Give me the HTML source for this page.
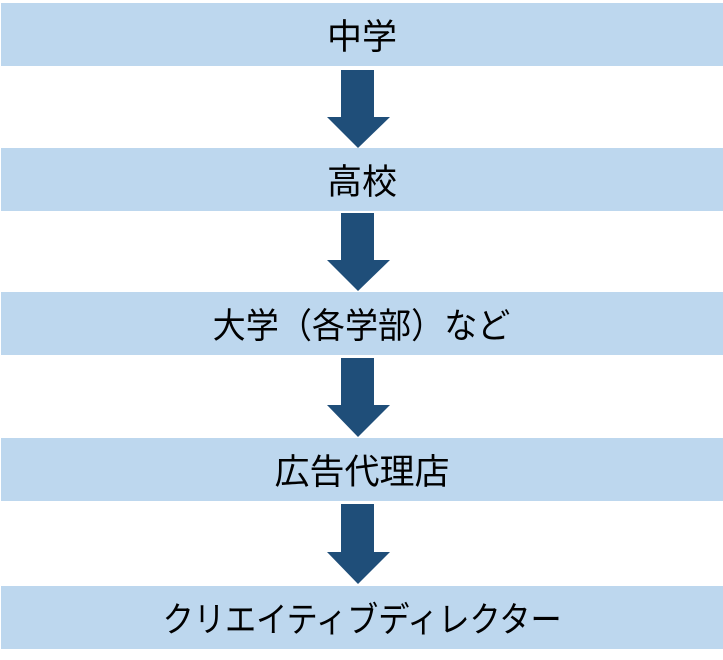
<!DOCTYPE html>
<html><head><meta charset="utf-8"><style>
body{margin:0;width:723px;height:660px;background:#fff;position:relative;overflow:hidden;font-family:"Liberation Sans","Noto Sans CJK JP",sans-serif}
.b{position:absolute;left:1px;width:722px;height:63px;background:#bdd7ee;display:flex;align-items:center;justify-content:center;font-size:35px;color:#000}
.b span{display:inline-block}
</style></head><body>
<div class="b" style="top:3px">中学</div>
<div class="b" style="top:148px">高校</div>
<div class="b" style="top:292px"><span style="transform:scaleX(0.945)">大学（各学部）など</span></div>
<div class="b" style="top:438px">広告代理店</div>
<div class="b" style="top:586px"><span style="transform:scaleX(0.89)">クリエイティブディレクター</span></div>
<svg width="723" height="660" style="position:absolute;left:0;top:0">
<g fill="#1f4e79">
<polygon points="341,70 374,70 374,117 390,117 358,148 327,117 341,117"/>
<polygon points="341,213 374,213 374,260 390,260 358,291 327,260 341,260"/>
<polygon points="341,358 374,358 374,405 390,405 358,437 327,405 341,405"/>
<polygon points="341,504 374,504 374,552 390,552 358,584 327,552 341,552"/>
</g></svg>
</body></html>
